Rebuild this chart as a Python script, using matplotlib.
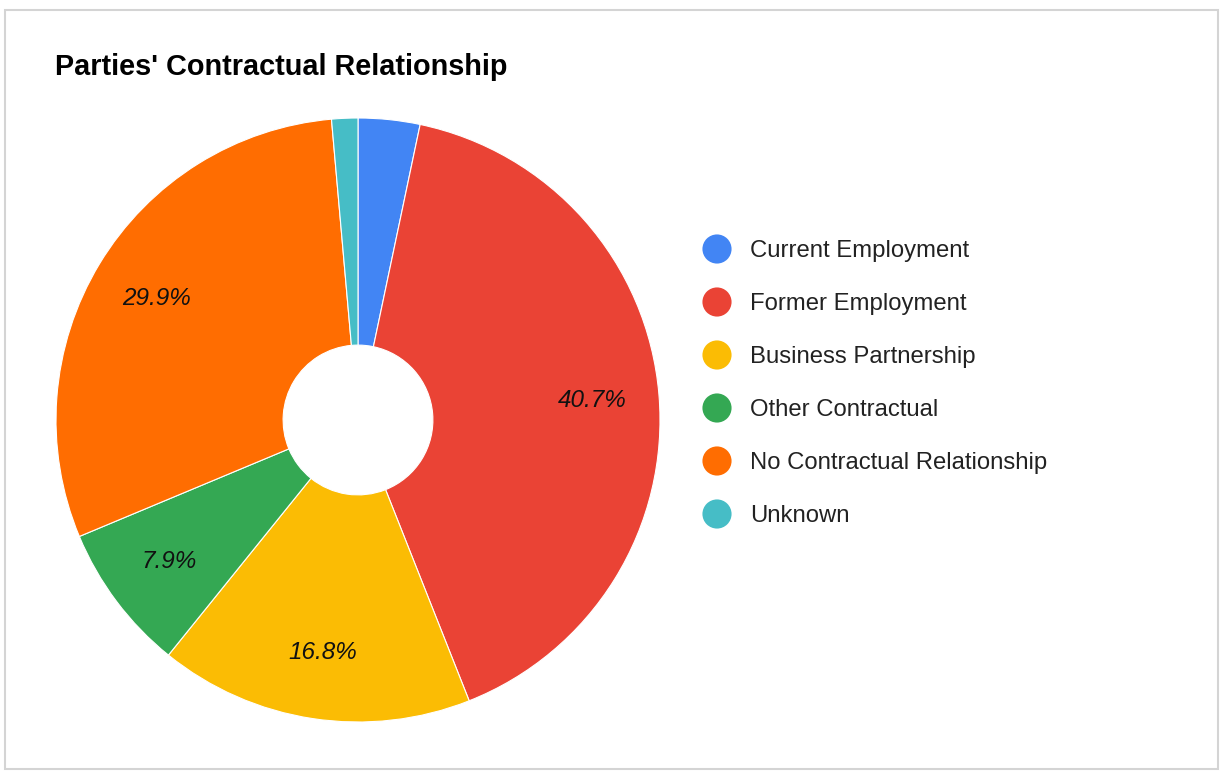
#!/usr/bin/env python
"""Donut chart of the parties' contractual relationship."""

import matplotlib
matplotlib.use("Agg")
import matplotlib.pyplot as plt
from matplotlib.patches import Rectangle

plt.rcParams['font.family'] = ['Liberation Sans', 'DejaVu Sans']

# data (percent of cases)
categories = ["Current Employment", "Former Employment", "Business Partnership",
              "Other Contractual", "No Contractual Relationship", "Unknown"]
shares = [3.3, 40.7, 16.8, 7.9, 29.9, 1.4]
colors = ["#4285F4", "#EA4335", "#FBBC04", "#34A853", "#FF6D01", "#46BDC6"]

title = "Parties' Contractual Relationship"

W, H = 1223, 771
fig = plt.figure(figsize=(W / 100, H / 100), dpi=100)

# card border like the screenshot frame
fig.add_artist(Rectangle((5 / W, 2 / H), 1213 / W, (H - 12) / H,
                         transform=fig.transFigure, facecolor='none',
                         edgecolor='#d4d4d4', linewidth=1.5))

# pie axes, centre (358, 420) px, radius 302 px
cx, cy, r = 358, 420, 302
ax = fig.add_axes([(cx - r) / W, (H - cy - r) / H, 2 * r / W, 2 * r / H])


def pct_label(p):
    # small slices carry no label, as in the original
    return f"{p:.1f}%" if p > 5 else ""


wedges, texts, autotexts = ax.pie(
    shares, colors=colors, startangle=90, counterclock=False,
    autopct=pct_label, pctdistance=0.78,
    wedgeprops=dict(width=0.752, edgecolor='white', linewidth=0.8),
    textprops=dict(fontsize=17.5, style='italic', color='#111111'))
ax.set_xlim(-1, 1)
ax.set_ylim(-1, 1)
ax.set_aspect('equal')
ax.axis('off')

fig.text(55 / W, 1 - 67 / H, title, fontsize=20.8, fontweight='bold',
         va='center', ha='left', color='#000000')

# legend drawn in a pixel-space overlay
lax = fig.add_axes([0, 0, 1, 1], zorder=-1)
lax.set_xlim(0, W)
lax.set_ylim(H, 0)
lax.axis('off')
for i, (name, col) in enumerate(zip(categories, colors)):
    y = 249 + i * 53
    lax.scatter([717], [y], s=440, color=col, edgecolors='none')
    lax.text(750, y + 2, name, fontsize=17.2, va='center', ha='left',
             color='#222222')

fig.savefig('out.png', dpi=100)
